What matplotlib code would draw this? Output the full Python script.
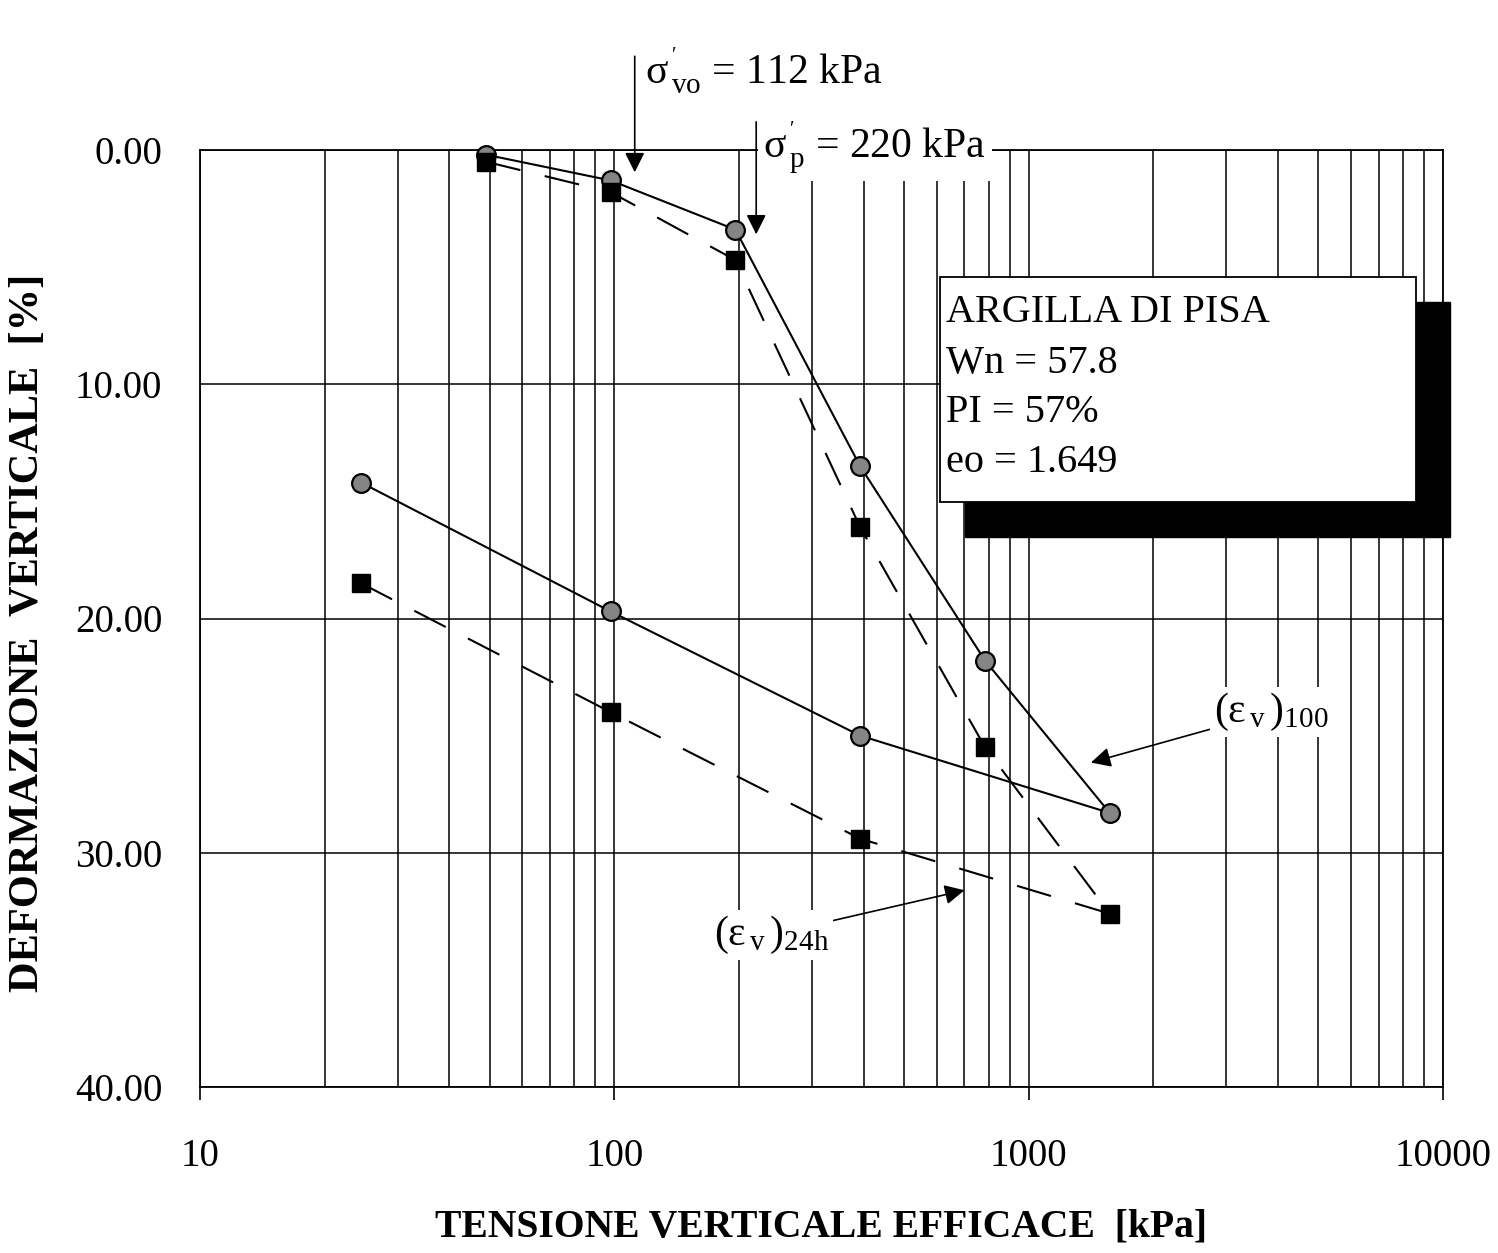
import matplotlib
matplotlib.use("Agg")
import matplotlib.pyplot as plt
from matplotlib.patches import Rectangle
from matplotlib.ticker import LogLocator, NullFormatter, FixedLocator, FixedFormatter

plt.rcParams['font.family'] = ['Liberation Serif', 'DejaVu Serif']
plt.rcParams['mathtext.fontset'] = 'custom'
plt.rcParams['mathtext.rm'] = 'Liberation Serif'
plt.rcParams['mathtext.it'] = 'Liberation Serif:italic'
plt.rcParams['mathtext.bf'] = 'Liberation Serif:bold'

# ---- data ----
stress_100 = [49, 98, 196, 392, 785, 1569, 392, 98, 24.5]
strain_100 = [0.2, 1.3, 3.4, 13.5, 21.8, 28.3, 25.0, 19.7, 14.2]

stress_24h = [49, 98, 196, 392, 785, 1569, 392, 98, 24.5]
strain_24h = [0.5, 1.8, 4.7, 16.1, 25.5, 32.6, 29.4, 24.0, 18.5]

sigma_vo = 112
sigma_p = 220

y_ticks = [0, 10, 20, 30, 40]
y_tick_labels = ['0.00', '10.00', '20.00', '30.00', '40.00']
x_ticks = [10, 100, 1000, 10000]
x_tick_labels = ['10', '100', '1000', '10000']

info_lines = ['ARGILLA DI PISA', 'Wn = 57.8', 'PI = 57%', 'eo = 1.649']

W, H = 1498, 1253
fig = plt.figure(figsize=(W / 100, H / 100), dpi=100)
ax = fig.add_axes([200 / W, 1 - 1087 / H, 1243 / W, 937 / H])

ax.set_xscale('log')
ax.set_xlim(10, 10000)
ax.set_ylim(40, 0)

ax.xaxis.set_major_locator(FixedLocator(x_ticks))
ax.xaxis.set_major_formatter(FixedFormatter(x_tick_labels))
ax.xaxis.set_minor_locator(LogLocator(base=10, subs=range(2, 10)))
ax.xaxis.set_minor_formatter(NullFormatter())
ax.yaxis.set_major_locator(FixedLocator(y_ticks))
ax.yaxis.set_major_formatter(FixedFormatter(y_tick_labels))

ax.grid(True, which='both', axis='x', color='black', lw=1.1, zorder=0)
ax.grid(True, which='major', axis='y', color='black', lw=1.1, zorder=0)
ax.set_axisbelow(True)
for s in ax.spines.values():
    s.set_linewidth(1.3)

ax.tick_params(axis='x', which='major', direction='out', length=9, width=1.2,
               pad=28, labelsize=28)
ax.tick_params(axis='x', which='minor', length=0)
ax.tick_params(axis='y', which='major', length=0, pad=27, labelsize=28)

ax.set_xlabel('TENSIONE VERTICALE EFFICACE  [kPa]', fontsize=28.5,
              fontweight='bold', labelpad=24)
ax.set_ylabel('DEFORMAZIONE  VERTICALE  [%]', fontsize=30.5,
              fontweight='bold', labelpad=20)
ax.yaxis.label.set_y(0.485)

ax.plot(stress_100, strain_100, color='black', lw=1.5, marker='o', ms=13.5,
        mfc='#858585', mec='black', mew=1.6, zorder=4, clip_on=False)
ax.plot(stress_24h, strain_24h, color='black', lw=1.5, ls=(0, (17, 12)),
        marker='s', ms=13.5, mfc='black', mec='black', zorder=4, clip_on=False)

arrow = dict(arrowstyle='-|>', color='black', lw=1.2, mutation_scale=30,
             shrinkA=0, shrinkB=0)

# sigma'vo annotation
ax.annotate('', xy=(sigma_vo, 0.95), xytext=(sigma_vo, -4.0),
            arrowprops=arrow, annotation_clip=False, zorder=6)
ax.text(sigma_vo * 1.06, -3.4, r"$\mathrm{σ}^{\,'}_{\,\mathrm{vo}}$ = 112 kPa",
        fontsize=30, ha='left', va='center', zorder=6)

# sigma'p annotation
ax.annotate('', xy=(sigma_p, 3.6), xytext=(sigma_p, -1.2),
            arrowprops=arrow, annotation_clip=False, zorder=6)
ax.text(sigma_p * 1.04, -0.1, r"$\mathrm{σ}^{\,'}_{\,\mathrm{p}}$ = 220 kPa",
        fontsize=30, ha='left', va='center', zorder=6,
        bbox=dict(facecolor='white', edgecolor='none', pad=4))

# (eps_v)100 label
ax.annotate(r"$(\mathrm{ε}_{\,\mathrm{v}}\,)_{\mathrm{100}}$", xy=(1413, 26.15),
            xytext=(2800, 24.0), fontsize=30, ha='left', va='center',
            arrowprops=arrow,
            bbox=dict(facecolor='white', edgecolor='none', pad=3), zorder=6)

# (eps_v)24h label
ax.annotate(r"$(\mathrm{ε}_{\,\mathrm{v}}\,)_{\mathrm{24h}}$", xy=(700, 31.6),
            xytext=(330, 33.5), fontsize=30, ha='right', va='center',
            arrowprops=arrow,
            bbox=dict(facecolor='white', edgecolor='none', pad=3), zorder=6)

# info box with shadow
shadow = Rectangle((965 / W, 1 - 537 / H), 485 / W, 235 / H,
                   transform=fig.transFigure, facecolor='black',
                   edgecolor='black', zorder=10)
box = Rectangle((940 / W, 1 - 502 / H), 476 / W, 225 / H,
                transform=fig.transFigure, facecolor='white',
                edgecolor='black', lw=1.3, zorder=11)
fig.add_artist(shadow)
fig.add_artist(box)
for i, line in enumerate(info_lines):
    fig.text(946 / W, 1 - (313 + 50 * i) / H, line, fontsize=29,
             ha='left', va='center', zorder=12)

fig.savefig('out.png', dpi=100, facecolor='white')
